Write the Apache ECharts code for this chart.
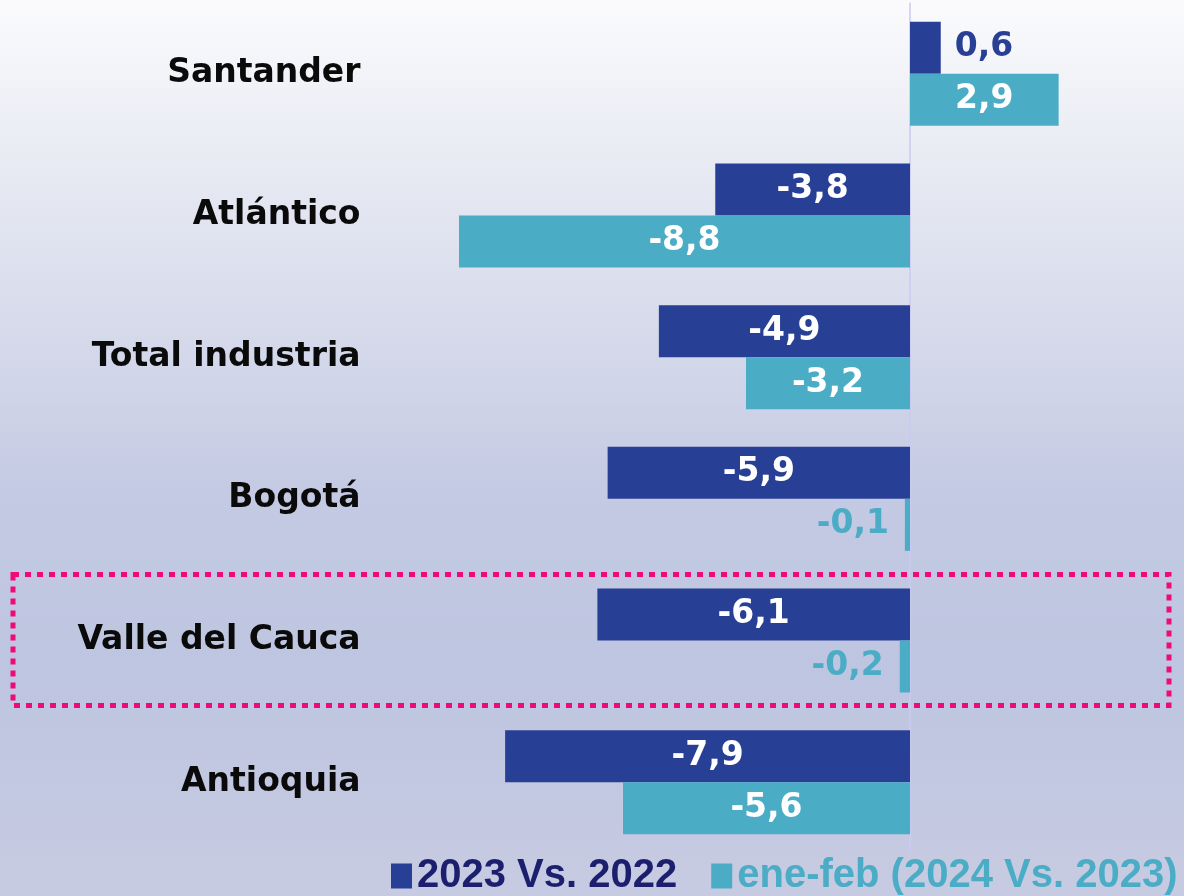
<!DOCTYPE html>
<html><head><meta charset="utf-8">
<script src="https://cdn.jsdelivr.net/npm/echarts@6/dist/echarts.min.js"></script>
<style>html,body{margin:0;padding:0;}#c{width:1184px;height:896px;}</style>
</head><body><div id="c"></div>
<script>
const categories = ['Santander','Atlántico','Total industria','Bogotá','Valle del Cauca','Antioquia'];
const series2023 = [0.6,-3.8,-4.9,-5.9,-6.1,-7.9];
const seriesEneFeb = [2.9,-8.8,-3.2,-0.1,-0.2,-5.6];
const seriesNames = ['2023 Vs. 2022','ene-feb (2024 Vs. 2023)'];
const highlighted = 'Valle del Cauca';

const DARK = '#283f96', LIGHT = '#4bacc6';
const fmt = v => v.toFixed(1).replace('.', ',');
const labelFont = {fontFamily:'DejaVu Sans', fontWeight:'bold', fontSize:33};

function items(vals, color){
  return vals.map(v => {
    const small = Math.abs(v) < 1;
    return {
      value: v,
      label: small ? {position: v >= 0 ? 'right' : 'left', color: color, distance: v>=0?14:16}
                   : {position:'inside', color:'#ffffff'}
    };
  });
}

const chart = echarts.init(document.getElementById('c'));
chart.setOption({
  backgroundColor: {type:'linear', x:0, y:0, x2:0, y2:1, colorStops:[
    {offset:0, color:'#fbfbfd'},{offset:0.12, color:'#eef0f6'},{offset:0.55, color:'#c4cae3'},
    {offset:0.75, color:'#bec5e0'},{offset:1, color:'#c7cbe2'}]},
  animation:false,
  grid:{left:397.5, right:17.75, top:3, bottom:43, containLabel:false, outerBoundsMode:'none'},
  xAxis:{type:'value', min:-10, max:5, show:false, splitLine:{show:false}},
  yAxis:{type:'category', inverse:true, data:categories,
    axisLine:{show:true, lineStyle:{color:'#cacaf2', width:1.5}},
    axisTick:{show:false},
    axisLabel:{margin:37, color:'#0a0a0a', fontFamily:'DejaVu Sans', fontWeight:'bold', fontSize:33}
  },
  legend:{bottom:-5, left:386, itemWidth:21, itemHeight:25, itemGap:34, icon:'rect',
    data:[{name:seriesNames[0], textStyle:{color:'#1b1f6e'}},{name:seriesNames[1], textStyle:{color:LIGHT}}],
    textStyle:{fontFamily:'Liberation Sans', fontWeight:'bold', fontSize:40}},
  series:[
    {name:seriesNames[0], type:'bar', data:items(series2023, DARK), barWidth:52, barGap:'0%',
      itemStyle:{color:DARK}, label:Object.assign({show:true, formatter:p=>fmt(p.value)}, labelFont)},
    {name:seriesNames[1], type:'bar', data:items(seriesEneFeb, LIGHT), barWidth:52, barGap:'0%',
      itemStyle:{color:LIGHT}, label:Object.assign({show:true, formatter:p=>fmt(p.value)}, labelFont)}
  ]
});

// dotted highlight box around highlighted category
const cy = chart.convertToPixel({yAxisIndex:0}, highlighted);
chart.setOption({graphic:[{type:'rect', shape:{x:13, y:cy-66, width:1156, height:131},
  style:{fill:'none', stroke:'#ee0a78', lineWidth:5, lineDash:[6,6]}, z:10}]});
</script></body></html>
